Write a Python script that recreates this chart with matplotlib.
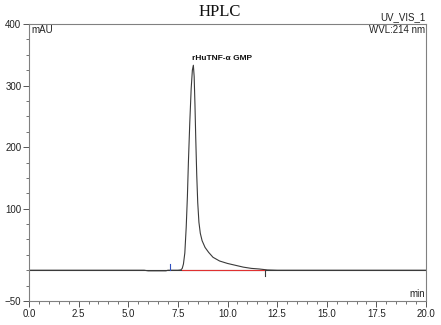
import matplotlib
matplotlib.use("Agg")
import matplotlib.pyplot as plt
from matplotlib.ticker import MultipleLocator, FormatStrFormatter

# Chromatogram trace (time in min, signal in mAU)
time_min = [0.0, 5.8, 6.0, 6.9, 7.0, 7.5, 7.65, 7.72, 7.78, 7.85, 7.92, 7.98,
            8.03, 8.10, 8.17, 8.23, 8.28, 8.32, 8.36, 8.40, 8.45, 8.50, 8.56,
            8.63, 8.72, 8.87, 9.05, 9.27, 9.6, 10.0, 10.4, 10.8, 11.2, 11.6,
            12.0, 12.5, 15.5, 20.0]
signal_mau = [0, 0, -1, -1, 0, 0, 0.5, 3, 10, 28, 70, 120,
              175, 240, 295, 325, 333, 315, 270, 215, 155, 110, 78,
              60, 48, 37, 29, 21, 15, 11, 8, 5, 3, 2,
              0.5, 0, 0, 0]

peak_label = "rHuTNF-α GMP"
peak_time = 8.28
peak_height = 333
baseline_start, baseline_end = 7.7, 11.9
marker_start, marker_end = 7.1, 11.9

x_ticks = [0.0, 2.5, 5.0, 7.5, 10.0, 12.5, 15.0, 17.5, 20.0]
y_ticks = [-50, 100, 200, 300, 400]

plt.rcParams['font.family'] = ['Liberation Sans', 'DejaVu Sans']

fig = plt.figure(figsize=(4.41, 3.25), dpi=100)
ax = fig.add_axes([29/441, 24/325, 397/441, 277/325])

ax.plot(time_min, signal_mau, color='#3a3a3a', lw=0.8)
ax.axhline(0, color='#3a3a3a', lw=0.8, zorder=1)
ax.plot([baseline_start, baseline_end], [0.5, 0.5], color='#e03030', lw=0.8)
ax.plot([marker_start, marker_start], [0, 10], color='#3050c0', lw=0.8)
ax.plot([marker_end, marker_end], [0, -9], color='#3a3a3a', lw=0.8)

ax.set_xlim(0, 20)
ax.set_ylim(-50, 400)
ax.set_xticks(x_ticks)
ax.set_yticks(y_ticks)
ax.xaxis.set_major_formatter(FormatStrFormatter('%.1f'))
ax.xaxis.set_minor_locator(MultipleLocator(0.5))
ax.yaxis.set_minor_locator(MultipleLocator(25))
ax.tick_params(axis='both', which='major', direction='out', length=4, width=0.6,
               labelsize=7, colors='#3a3a3a', labelcolor='#222222', pad=1.5)
ax.tick_params(axis='both', which='minor', direction='out', length=2, width=0.5,
               colors='#3a3a3a')
for s in ax.spines.values():
    s.set_color('#808080')
    s.set_linewidth(0.8)

ax.text(0.005, 0.995, "mAU", transform=ax.transAxes, ha='left', va='top',
        fontsize=7, color='#222222')
ax.text(0.998, 0.995, "WVL:214 nm", transform=ax.transAxes, ha='right', va='top',
        fontsize=7, color='#222222')
ax.text(0.998, 1.005, "UV_VIS_1", transform=ax.transAxes, ha='right', va='bottom',
        fontsize=7, color='#222222')
ax.text(0.998, 0.008, "min", transform=ax.transAxes, ha='right', va='bottom',
        fontsize=7, color='#222222')
ax.text(peak_time - 0.05, peak_height + 6, peak_label, ha='left', va='bottom',
        fontsize=6, fontweight='bold', color='#111111')

fig.text(220/441, 1 - 12/325, "HPLC", ha='center', va='center',
         fontsize=12, family=['Liberation Serif', 'DejaVu Serif'], color='#111111')

fig.savefig("out.png", dpi=100)
